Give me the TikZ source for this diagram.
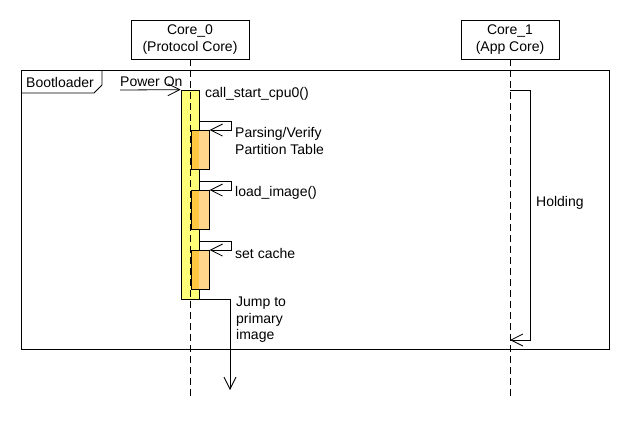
\documentclass[tikz,border=0pt]{standalone}
\usepackage{fontspec}
\setmainfont{Liberation Sans}
\usetikzlibrary{arrows.meta}
\definecolor{actyellow}{RGB}{255,255,120}
\definecolor{execlight}{RGB}{255,214,140}
\definecolor{execdeep}{RGB}{255,200,64}
\tikzset{x=1pt, y=-1pt,
    every node/.style={font=\fontsize{14}{16.5}\selectfont, inner sep=0pt},
    corebox/.style={draw, line width=0.8pt, minimum height=39pt, align=center},
    lifeline/.style={line width=0.7pt, dash pattern=on 7pt off 4pt},
    act/.style={draw, line width=0.7pt, fill=actyellow, minimum width=18pt, minimum height=209pt},
    exec/.style={draw, line width=0.7pt, fill=execlight, minimum width=18pt, minimum height=39pt,
        anchor=north west,
        path picture={\fill[execdeep] (path picture bounding box.north west)
            rectangle ([xshift=8pt]path picture bounding box.south west);}},
    msg/.style={line width=0.8pt, -{Straight Barb[length=12pt, width=12pt]}},
    lbl/.style={anchor=west, align=left},
    }
\begin{document}
\begin{tikzpicture}
	\useasboundingbox (0,0) rectangle (630,440);
	% lifelines
	\node[corebox, minimum width=118pt] (core0) at (190,39.5) {Core\_0\\(Protocol Core)};
	\node[corebox, minimum width=98pt] (core1) at (510,39.5) {Core\_1\\(App Core)};
	\coordinate (end0) at (190,400);
	\coordinate (end1) at (510,400);
	% frame
	\draw[line width=0.8pt] (21,70) rectangle (609,349);
	\draw[line width=0.8pt] (21,93) -- (94,93) -- (102,85) -- (102,70);
	\node[lbl] (frame) at (26,82) {Bootloader};
	% activations
	\node[act] (act) at (190,194.5) {};
	\node[exec] (exec1) at (191,130) {};
	\node[exec] (exec2) at (191,190) {};
	\node[exec] (exec3) at (191,250) {};
	\draw[lifeline] (core0) -- (end0);
	\draw[lifeline] (core1) -- (end1);
	% messages
	\coordinate (pwr) at (120,90);
	\draw[msg] (pwr) -- (act.north west);
	\node[anchor=base west] (pwrlbl) at (120,86) {Power On};
	\node[lbl] (start) at (205,94) {call\_start\_cpu0()};
	\draw[msg] (act.east |- 0,121) -- (231,121) -- (231,130) -- (exec1.north east);
	\node[lbl] (parse) at (235,141) {Parsing/Verify\\Partition Table};
	\draw[msg] (act.east |- 0,181) -- (231,181) -- (231,190) -- (exec2.north east);
	\node[lbl] (load) at (235,193) {load\_image()};
	\draw[msg] (act.east |- 0,241) -- (231,241) -- (231,250) -- (exec3.north east);
	\node[lbl] (cache) at (235,253) {set cache};
	\coordinate (jmp) at (230,390);
	\draw[msg] (act.south east) -| (jmp);
	\node[lbl] (jump) at (236,320) {Jump to\\primary\\image};
	\coordinate (hold) at (510,340);
	\draw[msg] (510,90) -- (530,90) -- (530,340) -- (hold);
	\node[lbl] (holding) at (536,203) {Holding};
\end{tikzpicture}
\end{document}
